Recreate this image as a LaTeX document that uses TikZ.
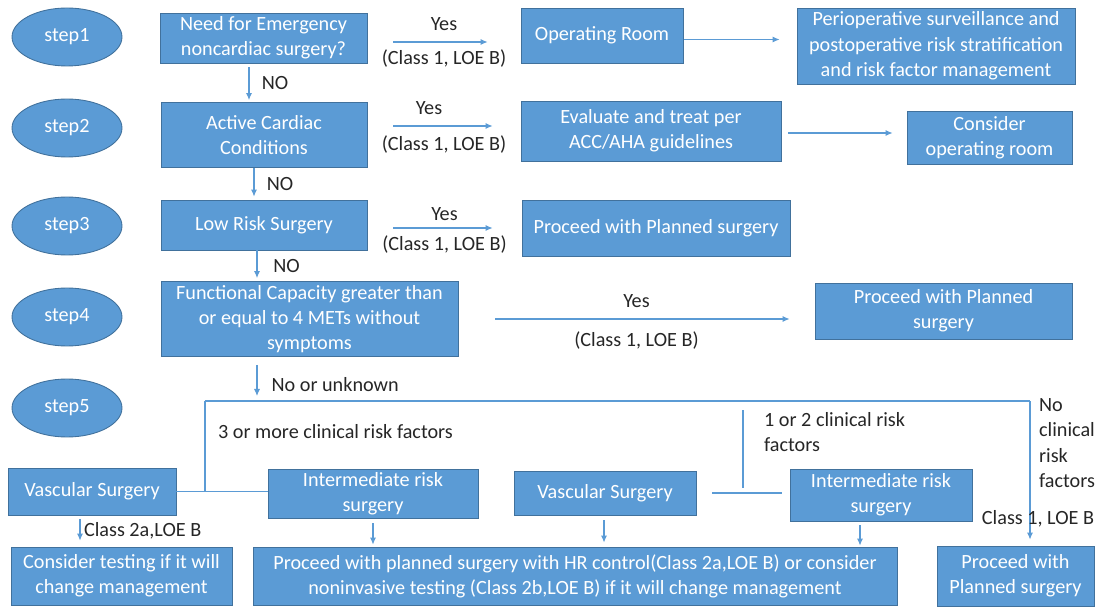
\documentclass[tikz,border=0pt]{standalone}
\usepackage{fontspec}
\setmainfont{Carlito}
\usetikzlibrary{arrows.meta,positioning,shapes.geometric}
\definecolor{boxblue}{HTML}{5B9BD5}
\definecolor{boxline}{HTML}{41719C}
\definecolor{lbltext}{HTML}{262626}

\begin{document}
\begin{tikzpicture}[
x=0.02cm, y=-0.02cm,
font=\fontsize{11.5}{14.4}\selectfont,
box/.style={rectangle, draw=boxline, fill=boxblue, text=white, align=center, inner sep=2pt, line width=0.5pt},
stepnode/.style={ellipse, draw=boxline, fill=boxblue, text=white, minimum width=2.2cm, minimum height=1.16cm, line width=0.5pt},
arr/.style={draw=boxblue, line width=0.6pt, -{Latex[length=4pt,width=3.5pt]}},
line/.style={draw=boxblue, line width=0.6pt},
lbl/.style={text=lbltext, inner sep=1pt}
]
\useasboundingbox (0,0) rectangle (1097,607);
%Steps
\node[stepnode] (s1) at (67,37)  {step1};
\node[stepnode] (s2) at (67,128) {step2};
\node[stepnode] (s3) at (67,226) {step3};
\node[stepnode] (s4) at (67,317) {step4};
\node[stepnode] (s5) at (67,408) {step5};
%Boxes
\node[box, minimum width=4.14cm, minimum height=1.0cm]  (need)   at (263.5,38)  {Need for Emergency\\noncardiac surgery?};
\node[box, minimum width=3.24cm, minimum height=1.1cm]  (or)     at (602,35.5)  {Operating Room};
\node[box, minimum width=5.56cm, minimum height=1.52cm] (periop) at (936,46)    {Perioperative surveillance and\\postoperative risk stratification\\and risk factor management};
\node[box, minimum width=4.12cm, minimum height=1.3cm]  (active) at (264,135)   {Active Cardiac\\Conditions};
\node[box, minimum width=5.2cm,  minimum height=1.2cm]  (eval)   at (651,131)   {Evaluate and treat per\\ACC/AHA guidelines};
\node[box, minimum width=3.3cm,  minimum height=1.06cm] (cons)   at (989.5,137.5) {Consider\\operating room};
\node[box, minimum width=4.12cm, minimum height=1.0cm]  (low)    at (264,225)   {Low Risk Surgery};
\node[box, minimum width=5.36cm, minimum height=1.12cm] (plan1)  at (656,228)   {Proceed with Planned surgery};
\node[box, minimum width=5.94cm, minimum height=1.44cm] (func)   at (309.5,319) {Functional Capacity greater than\\or equal to 4 METs without\\symptoms};
\node[box, minimum width=5.14cm, minimum height=1.12cm] (plan2)  at (943.5,311) {Proceed with Planned\\surgery};
\node[box, minimum width=3.36cm, minimum height=0.94cm] (vs1)    at (92,491.5)  {Vascular Surgery};
\node[box, minimum width=4.2cm,  minimum height=0.96cm] (ir1)    at (373,494)   {Intermediate risk\\surgery};
\node[box, minimum width=3.64cm, minimum height=0.88cm] (vs2)    at (605,493)   {Vascular Surgery};
\node[box, minimum width=3.64cm, minimum height=1.04cm] (ir2)    at (881,495)   {Intermediate risk\\surgery};
\node[box, minimum width=4.42cm, minimum height=1.16cm] (test)   at (121.5,576) {Consider testing if it will\\change management};
\node[box, minimum width=12.88cm,minimum height=1.16cm] (hr)     at (575,576)   {Proceed with planned surgery with HR control(Class 2a,LOE B) or consider\\noninvasive testing (Class 2b,LOE B) if it will change management};
\node[box, minimum width=3.14cm, minimum height=1.2cm]  (plan3)  at (1015.5,576) {Proceed with\\Planned surgery};
%Yes branches
\draw[arr, shorten <=26*0.02cm, shorten >=33*0.02cm] ([yshift=-4*0.02cm]need.east) -- ([yshift=-4*0.02cm]need.east -| or.west)
  node[lbl, midway, above=5pt] {Yes} node[lbl, midway, below=3pt] {(Class 1, LOE B)};
\draw[arr, shorten <=0.02cm, shorten >=17*0.02cm] ([yshift=-4*0.02cm]or.east) -- ([yshift=-4*0.02cm]or.east -| periop.west);
\draw[arr, shorten <=26*0.02cm, shorten >=28*0.02cm] ([yshift=9*0.02cm]active.east) -- ([yshift=9*0.02cm]active.east -| eval.west)
  node[lbl, midway, above=5pt, xshift=-0.3cm] {Yes} node[lbl, midway, below=4pt] {(Class 1, LOE B)};
\draw[arr, shorten <=7*0.02cm, shorten >=14*0.02cm] ([yshift=-2*0.02cm]eval.east) -- ([yshift=-2*0.02cm]eval.east -| cons.west);
\draw[arr, shorten <=26*0.02cm, shorten >=29*0.02cm] ([yshift=-3*0.02cm]low.east) -- ([yshift=-3*0.02cm]low.east -| plan1.west)
  node[lbl, midway, above=3pt] {Yes} node[lbl, midway, below=3pt] {(Class 1, LOE B)};
\draw[arr, shorten <=37*0.02cm, shorten >=25*0.02cm] (func.east) -- (func.east -| plan2.west)
  node[lbl, midway, above=5pt] {Yes} node[lbl, midway, below=6pt] {(Class 1, LOE B)};
%NO branches
\draw[arr, shorten <=4*0.02cm, shorten >=2*0.02cm] ([xshift=-14.5*0.02cm]need.south) -- ([xshift=-14.5*0.02cm]need.south |- active.north)
  node[lbl, midway, right=6pt] {NO};
\draw[arr, shorten >=3*0.02cm] ([xshift=-10*0.02cm]active.south) -- ([xshift=-10*0.02cm]active.south |- low.north)
  node[lbl, midway, right=6pt] {NO};
\draw[arr, shorten >=3*0.02cm] ([xshift=-7*0.02cm]low.south) -- ([xshift=-7*0.02cm]low.south |- func.north)
  node[lbl, midway, right=8pt] {NO};
%Step 5
\coordinate (split) at (257,396);
\coordinate (jl) at (205,401);
\coordinate (jr) at (1030,401);
\coordinate (jm) at (743,410);
\draw[arr, shorten <=8*0.02cm] (func.south -| split) -- (split)
  node[lbl, pos=0.7, anchor=west, xshift=7pt] {No or unknown};
\draw[line] (jl) -- (jr);
\draw[line] (jl) -- (jl |- vs1.east);
\draw[line] (vs1.east) -- (vs1.east -| ir1.west);
\draw[arr, shorten >=6*0.02cm] (jr) -- (jr |- plan3.north);
\draw[line, shorten >=5*0.02cm] (jm) -- (jm |- vs2.east);
\draw[line, shorten <=16*0.02cm, shorten >=8*0.02cm] (vs2.east) -- (vs2.east -| ir2.west);
\node[lbl, anchor=west] (three) at (216,432) {3 or more clinical risk factors};
\node[lbl, anchor=west, align=left] (onetwo) at (762,432) {1 or 2 clinical risk\\factors};
\node[lbl, anchor=west, align=left] (none) at (1037,443) {No\\clinical\\risk\\factors};
\node[lbl] (cls5) at (1038,519) {Class 1, LOE B};
%Down arrows
\draw[arr, shorten <=4*0.02cm, shorten >=6*0.02cm] ([xshift=-12*0.02cm]vs1.south) -- ([xshift=-12*0.02cm]vs1.south |- test.north)
  node[lbl, midway, anchor=west, xshift=1pt] {Class 2a,LOE B};
\draw[arr, shorten <=4*0.02cm, shorten >=2*0.02cm] (ir1.south) -- (ir1.south |- hr.north);
\draw[arr, shorten <=5*0.02cm, shorten >=4*0.02cm] ([xshift=-1*0.02cm]vs2.south) -- ([xshift=-1*0.02cm]vs2.south |- hr.north);
\draw[arr, shorten <=4*0.02cm, shorten >=1*0.02cm] ([xshift=-21*0.02cm]ir2.south) -- ([xshift=-21*0.02cm]ir2.south |- hr.north);
\end{tikzpicture}
\end{document}
